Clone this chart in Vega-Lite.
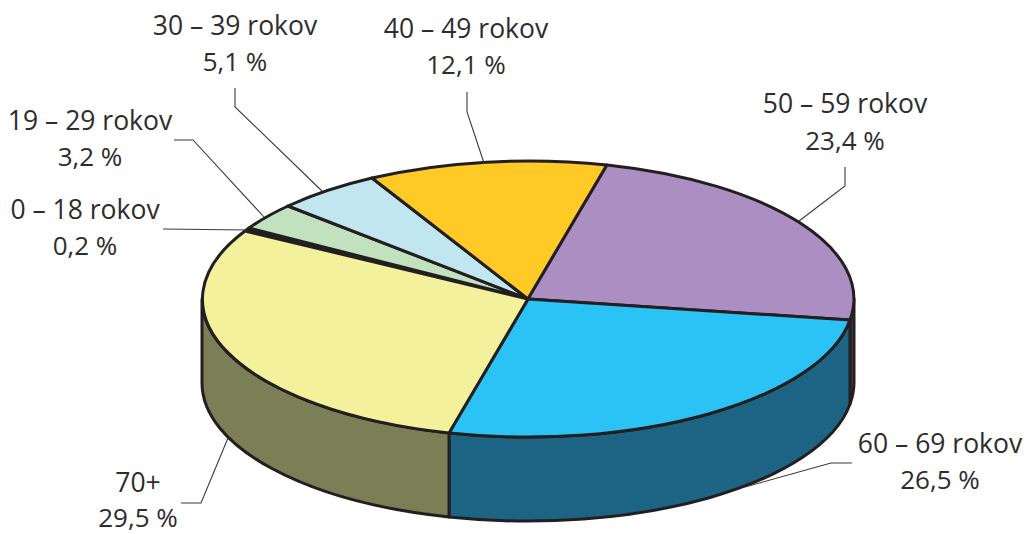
{
"$schema":"https://vega.github.io/schema/vega-lite/v6.json",
"width":1027,"height":534,"padding":0,
"autosize":{"type":"fit","contains":"padding"},
"background":"white",
"config":{"view":{"stroke":null}},
"data":{"values":[
{"age":"0 – 18 rokov","value":0.2,"pct":"0,2 %"},
{"age":"19 – 29 rokov","value":3.2,"pct":"3,2 %"},
{"age":"30 – 39 rokov","value":5.1,"pct":"5,1 %"},
{"age":"40 – 49 rokov","value":12.1,"pct":"12,1 %"},
{"age":"50 – 59 rokov","value":23.4,"pct":"23,4 %"},
{"age":"60 – 69 rokov","value":26.5,"pct":"26,5 %"},
{"age":"70+","value":29.5,"pct":"29,5 %"}
]},
"resolve":{"scale":{"x":"independent","y":"independent","shape":"independent","color":"independent"},"axis":{"x":"independent","y":"independent"}},
"layer":[
{"transform":[{"filter":{"field":"age","oneOf":["50 – 59 rokov","60 – 69 rokov","70+"]}}],
"mark":{"type":"point","filled":true,"opacity":1,"size":4,"stroke":"#231f20","strokeWidth":3,"strokeJoin":"round"},
"encoding":{
"x":{"datum":0,"type":"quantitative","axis":null,"scale":{"domain":[-528,499],"range":[0,1027],"nice":false,"zero":false}},
"y":{"datum":0,"type":"quantitative","axis":null,"scale":{"domain":[-299,235],"range":[0,534],"nice":false,"zero":false}},
"shape":{"field":"age","type":"nominal","legend":null,"scale":{"domain":["50 – 59 rokov","60 – 69 rokov","70+"],"range":[
"M322,21 A326,138 0 0 0 326,0 L326,84 A326,138 0 0 1 322,105 Z",
"M-79,134 A326,138 0 0 0 322,21 L322,105 A326,138 0 0 1 -79,218 Z",
"M-326,0 A326,138 0 0 0 -79,134 L-79,218 A326,138 0 0 1 -326,84 Z"]}},
"color":{"field":"age","type":"nominal","legend":null,"scale":{"domain":["50 – 59 rokov","60 – 69 rokov","70+"],"range":["#5a4468","#1d6484","#7c7e55"]}}
}},
{"mark":{"type":"point","filled":true,"opacity":1,"size":4,"stroke":"#231f20","strokeWidth":3,"strokeJoin":"round"},
"encoding":{
"x":{"datum":0,"type":"quantitative","axis":null,"scale":{"domain":[-528,499],"range":[0,1027],"nice":false,"zero":false}},
"y":{"datum":0,"type":"quantitative","axis":null,"scale":{"domain":[-299,235],"range":[0,534],"nice":false,"zero":false}},
"shape":{"field":"age","type":"nominal","legend":null,"scale":{"domain":["0 – 18 rokov","19 – 29 rokov","30 – 39 rokov","40 – 49 rokov","50 – 59 rokov","60 – 69 rokov","70+"],"range":[
"M0,0 L-283,-68 A326,138 0 0 1 -279,-71 Z",
"M0,0 L-279,-71 A326,138 0 0 1 -240,-93 Z",
"M0,0 L-240,-93 A326,138 0 0 1 -156,-121 Z",
"M0,0 L-156,-121 A326,138 0 0 1 79,-134 Z",
"M0,0 L79,-134 A326,138 0 0 1 322,21 Z",
"M0,0 L322,21 A326,138 0 0 1 -79,134 Z",
"M0,0 L-79,134 A326,138 0 0 1 -283,-68 Z"]}},
"color":{"field":"age","type":"nominal","legend":null,"scale":{"domain":["0 – 18 rokov","19 – 29 rokov","30 – 39 rokov","40 – 49 rokov","50 – 59 rokov","60 – 69 rokov","70+"],"range":["#231f20","#c2e2bf","#c1e6f0","#ffc926","#ab8fc3","#2bc3f5","#f4f19c"]}}
}},
{"mark":{"type":"point","filled":false,"fill":"none","opacity":1,"size":4,"strokeWidth":1.1},
"encoding":{
"x":{"datum":0,"type":"quantitative","axis":null,"scale":{"domain":[-528,499],"range":[0,1027],"nice":false,"zero":false}},
"y":{"datum":0,"type":"quantitative","axis":null,"scale":{"domain":[-299,235],"range":[0,534],"nice":false,"zero":false}},
"color":{"value":"#3a3a3c"},
"shape":{"field":"age","type":"nominal","legend":null,"scale":{"domain":["0 – 18 rokov","19 – 29 rokov","30 – 39 rokov","40 – 49 rokov","50 – 59 rokov","60 – 69 rokov","70+"],"range":[
"M-365,-70 L-281,-69",
"M-354,-159 L-335,-159 L-264,-82",
"M-293,-211 L-293,-192 L-206,-108",
"M-61,-207 L-61,-187 L-44,-136",
"M317,-132 L317,-113 L271,-78",
"M324,164 L303,164 L217,188",
"M-347,204 L-327,204 L-300,139"]}}
}},
{"mark":{"type":"text","font":"Open Sans","fontSize":26.5,"color":"#2f2c2d","baseline":"middle","align":"center"},
"encoding":{
"text":{"field":"age"},
"x":{"field":"value","type":"quantitative","axis":null,"scale":{"domain":[0.2,3.2,5.1,12.1,23.4,26.5,29.5],"range":[85,90,235,466,845,940,138],"nice":false,"zero":false}},
"y":{"field":"value","type":"quantitative","axis":null,"scale":{"domain":[0.2,3.2,5.1,12.1,23.4,26.5,29.5],"range":[211,122,27,30,105,445,484],"nice":false,"zero":false}}
}},
{"mark":{"type":"text","font":"Open Sans","fontSize":26,"color":"#2f2c2d","baseline":"middle","align":"center"},
"encoding":{
"text":{"field":"pct"},
"x":{"field":"value","type":"quantitative","axis":null,"scale":{"domain":[0.2,3.2,5.1,12.1,23.4,26.5,29.5],"range":[85,90,235,466,845,940,138],"nice":false,"zero":false}},
"y":{"field":"value","type":"quantitative","axis":null,"scale":{"domain":[0.2,3.2,5.1,12.1,23.4,26.5,29.5],"range":[247,158,63,66,142,481,518.5],"nice":false,"zero":false}}
}}
]}
